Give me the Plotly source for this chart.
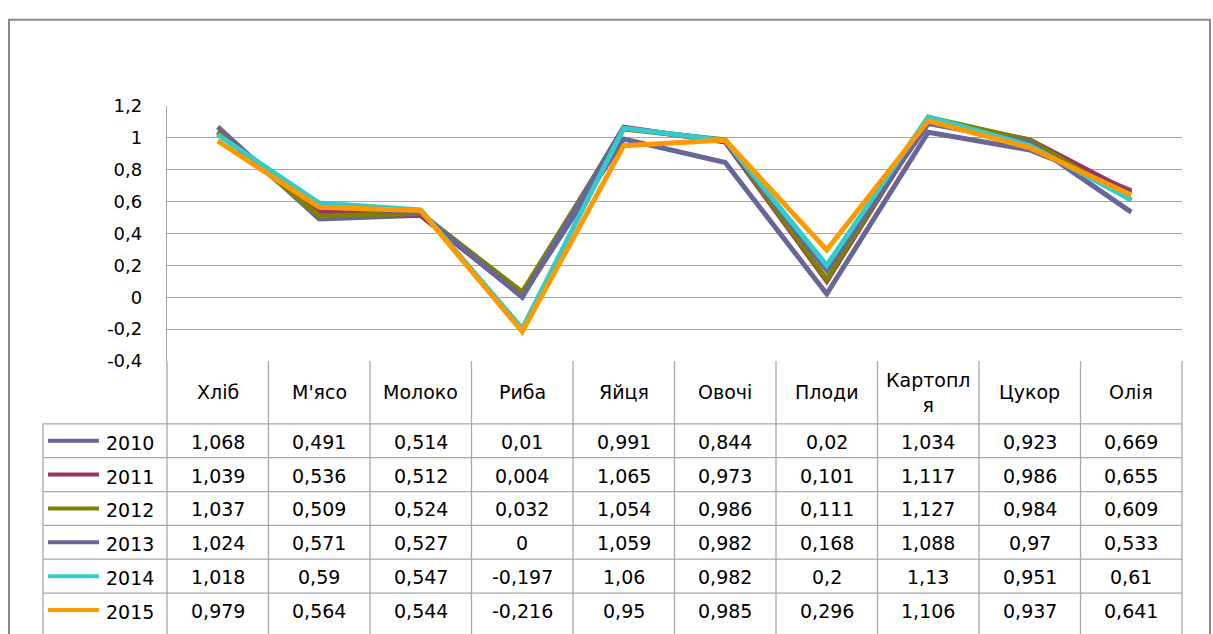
import plotly.graph_objects as go

categories = ["Хліб", "М'ясо", "Молоко", "Риба", "Яйця", "Овочі", "Плоди", "Картопля", "Цукор", "Олія"]
header_labels = ["Хліб", "М'ясо", "Молоко", "Риба", "Яйця", "Овочі", "Плоди", "Картопл<br>я", "Цукор", "Олія"]
years = ["2010", "2011", "2012", "2013", "2014", "2015"]
values_2010 = [1.068, 0.491, 0.514, 0.01, 0.991, 0.844, 0.02, 1.034, 0.923, 0.669]
values_2011 = [1.039, 0.536, 0.512, 0.004, 1.065, 0.973, 0.101, 1.117, 0.986, 0.655]
values_2012 = [1.037, 0.509, 0.524, 0.032, 1.054, 0.986, 0.111, 1.127, 0.984, 0.609]
values_2013 = [1.024, 0.571, 0.527, 0, 1.059, 0.982, 0.168, 1.088, 0.97, 0.533]
values_2014 = [1.018, 0.59, 0.547, -0.197, 1.06, 0.982, 0.2, 1.13, 0.951, 0.61]
values_2015 = [0.979, 0.564, 0.544, -0.216, 0.95, 0.985, 0.296, 1.106, 0.937, 0.641]
series = [values_2010, values_2011, values_2012, values_2013, values_2014, values_2015]
y_tick_values = [-0.4, -0.2, 0, 0.2, 0.4, 0.6, 0.8, 1, 1.2]
y_tick_labels = ["-0,4", "-0,2", "0", "0,2", "0,4", "0,6", "0,8", "1", "1,2"]

colors = ["#666699", "#993366", "#808000", "#666699", "#33CCCC", "#FF9900"]

W, H = 1213, 634
FONT = "DejaVu Sans"
GRID = "#A8A8A8"


def px(x):
    return x / W


def py(y):
    return 1 - y / H


def fmt(v):
    return ("%g" % v).replace(".", ",")


PL, PR, PT, PB = 167, 1182, 98, 362
fig = go.Figure()
for yr, vals, c in zip(years, series, colors):
    fig.add_trace(go.Scatter(x=categories, y=vals, mode="lines", name=yr,
                             line=dict(color=c, width=5), showlegend=False))

shapes = []
annotations = []
# outer border
shapes.append(dict(type="rect", xref="paper", yref="paper", x0=px(9), x1=px(1210), y0=py(650), y1=py(9),
                   line=dict(color="#8A8A8A", width=2)))
# table grid
col_w = (PR - PL) / len(categories)
row_top = 427
row_h = 35
for k in range(len(categories) + 1):
    x = PL + k * col_w
    shapes.append(dict(type="line", xref="paper", yref="paper", x0=px(x), x1=px(x), y0=py(PB), y1=py(650),
                       line=dict(color=GRID, width=1.3)))
shapes.append(dict(type="line", xref="paper", yref="paper", x0=px(43), x1=px(43), y0=py(row_top), y1=py(650),
                   line=dict(color=GRID, width=1.3)))
for r in range(len(years)):
    y = row_top + r * row_h
    shapes.append(dict(type="line", xref="paper", yref="paper", x0=px(43), x1=px(PR), y0=py(y), y1=py(y),
                       line=dict(color=GRID, width=1.3)))

# header
for k, lab in enumerate(header_labels):
    annotations.append(dict(xref="paper", yref="paper", x=px(PL + (k + 0.5) * col_w), y=py((PB + row_top) / 2),
                            text=lab, showarrow=False, xanchor="center", yanchor="middle",
                            font=dict(family=FONT, size=19, color="#000000")))
# rows
for r, (yr, vals, c) in enumerate(zip(years, series, colors)):
    yc = row_top + (r + 0.5) * row_h
    shapes.append(dict(type="line", xref="paper", yref="paper", x0=px(48), x1=px(99), y0=py(yc), y1=py(yc),
                       line=dict(color=c, width=4)))
    annotations.append(dict(xref="paper", yref="paper", x=px(104), y=py(yc + 2), text=yr, showarrow=False,
                            xanchor="left", yanchor="middle", font=dict(family=FONT, size=19, color="#000000")))
    for k, v in enumerate(vals):
        annotations.append(dict(xref="paper", yref="paper", x=px(PL + (k + 0.5) * col_w), y=py(yc + 1),
                                text=fmt(v), showarrow=False, xanchor="center", yanchor="middle",
                                font=dict(family=FONT, size=19, color="#000000")))

fig.update_layout(
    width=W, height=H, autosize=False,
    margin=dict(l=0, r=0, t=0, b=0),
    paper_bgcolor="#FFFFFF", plot_bgcolor="#FFFFFF",
    shapes=shapes, annotations=annotations,
    xaxis=dict(domain=[px(PL), px(PR)], range=[-0.5, len(categories) - 0.5], type="category",
               showticklabels=False, showgrid=False, zeroline=False, showline=False, fixedrange=True),
    yaxis=dict(domain=[py(PB), py(PT)], range=[-0.4, 1.2], tickvals=y_tick_values, ticktext=y_tick_labels,
               showgrid=True, gridcolor=GRID, gridwidth=1.3, zeroline=False,
               showline=True, linecolor=GRID, linewidth=1.3, ticks="", ticklabelstandoff=20,
               tickfont=dict(family=FONT, size=18, color="#000000"), fixedrange=True),
    font=dict(family=FONT),
)

fig.write_html("out.html", config={"displayModeBar": False},
               post_script="document.body.style.margin='0';document.body.style.overflow='hidden';")
